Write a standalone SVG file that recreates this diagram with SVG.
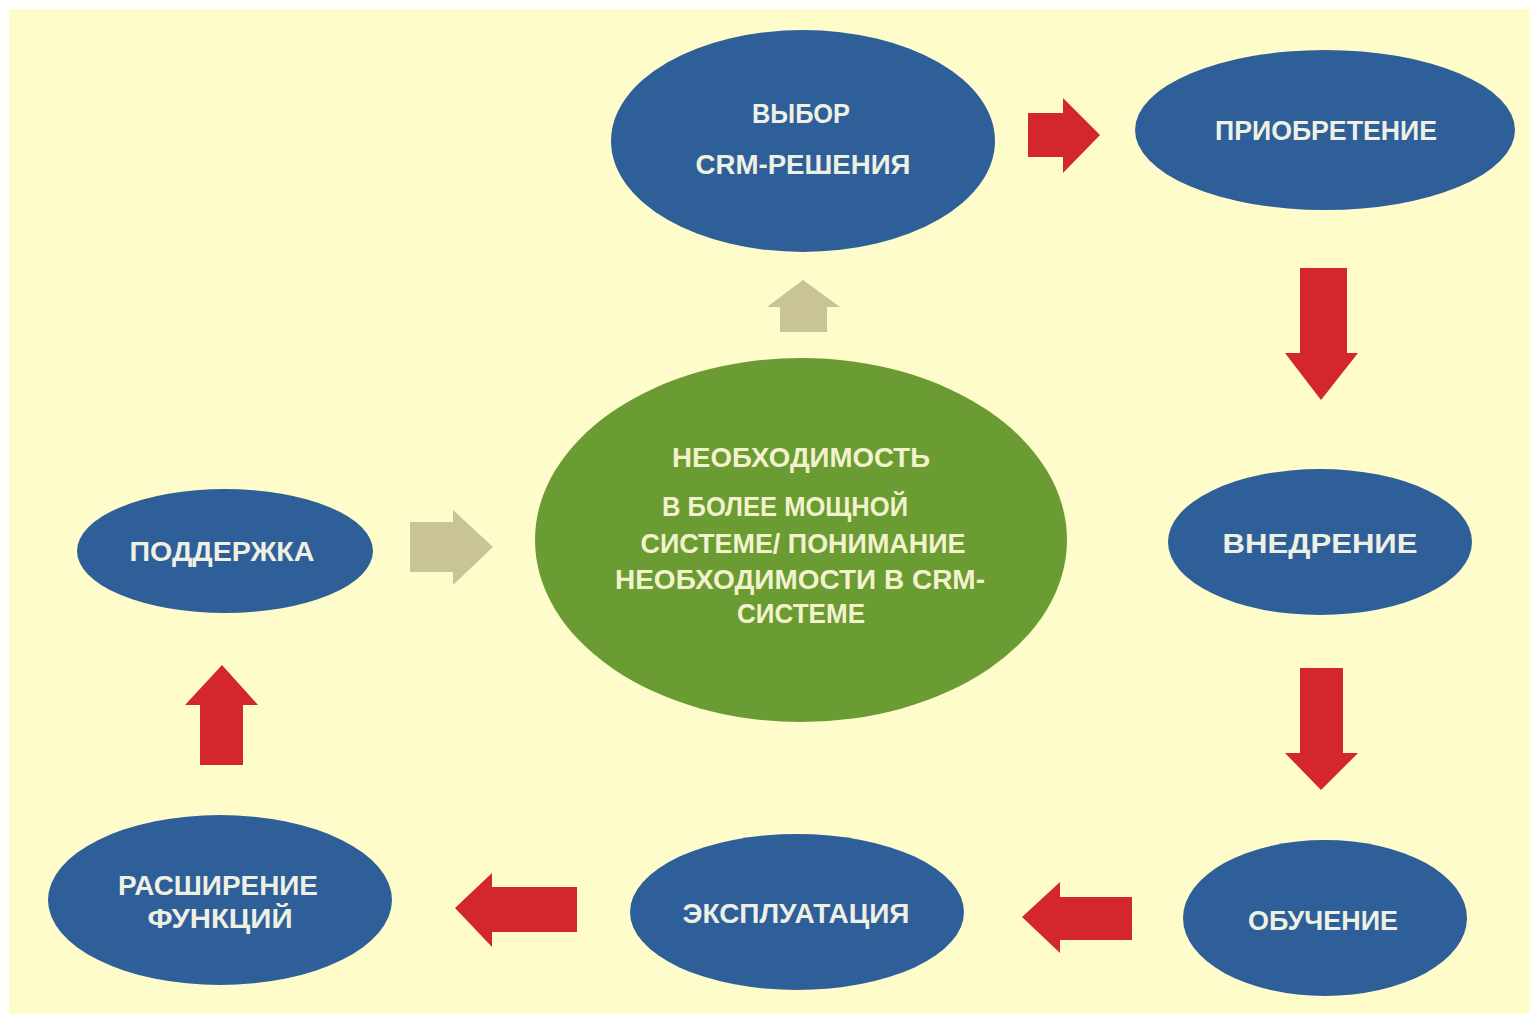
<svg xmlns="http://www.w3.org/2000/svg" width="1530" height="1015" viewBox="0 0 1530 1015">
<style>
.blue{fill:#2F5F98}
.green{fill:#6B9B33}
.red{fill:#D3262F}
.tan{fill:#C8C496}
.t{font-family:"Liberation Sans","Open Sans",sans-serif;font-weight:bold;font-size:27px;fill:#EEF0E4;text-anchor:middle}
.tg{fill:#F2F2CC}
</style>
<rect x="0" y="0" width="1530" height="1015" fill="#FFFFFF"/>
<rect x="9" y="9" width="1521" height="1005" fill="#FFFCCB"/>
<g id="connectors">
<polygon class="red" points="1028,113 1063,113 1063,98 1100,135 1063,173 1063,157 1028,157"/>
<polygon class="tan" points="780,332 780,307 767,307 803,280 840,307 827,307 827,332"/>
<polygon class="red" points="1300,268 1347,268 1347,353 1358,353 1321,400 1285,353 1300,353"/>
<polygon class="red" points="1300,668 1343,668 1343,753 1358,753 1321,790 1285,753 1300,753"/>
<polygon class="red" points="1132,897 1060,897 1060,882 1022,917 1060,953 1060,940 1132,940"/>
<polygon class="red" points="577,887 492,887 492,873 455,908 492,947 492,932 577,932"/>
<polygon class="red" points="200,765 200,705 185,705 222,665 258,705 243,705 243,765"/>
<polygon class="tan" points="410,522 453,522 453,510 493,547 453,585 453,572 410,572"/>
</g>
<g id="n-vybor">
<ellipse class="blue" cx="803" cy="141" rx="192" ry="111"/>
<text class="t" x="801" y="123" textLength="98" lengthAdjust="spacingAndGlyphs">ВЫБОР</text>
<text class="t" x="803" y="174" textLength="215" lengthAdjust="spacingAndGlyphs">CRM-РЕШЕНИЯ</text>
</g>
<g id="n-priobretenie">
<ellipse class="blue" cx="1325" cy="130" rx="190" ry="80"/>
<text class="t" x="1326" y="140" textLength="222" lengthAdjust="spacingAndGlyphs">ПРИОБРЕТЕНИЕ</text>
</g>
<g id="n-vnedrenie">
<ellipse class="blue" cx="1320" cy="542" rx="152" ry="73"/>
<text class="t" x="1320" y="553" textLength="195" lengthAdjust="spacingAndGlyphs">ВНЕДРЕНИЕ</text>
</g>
<g id="n-obuchenie">
<ellipse class="blue" cx="1325" cy="918" rx="142" ry="78"/>
<text class="t" x="1323" y="930" textLength="150" lengthAdjust="spacingAndGlyphs">ОБУЧЕНИЕ</text>
</g>
<g id="n-ekspluatatsiya">
<ellipse class="blue" cx="797" cy="912" rx="167" ry="78"/>
<text class="t" x="796" y="923" textLength="227" lengthAdjust="spacingAndGlyphs">ЭКСПЛУАТАЦИЯ</text>
</g>
<g id="n-rasshirenie">
<ellipse class="blue" cx="220" cy="900" rx="172" ry="85"/>
<text class="t" x="218" y="895" textLength="200" lengthAdjust="spacingAndGlyphs">РАСШИРЕНИЕ</text>
<text class="t" x="220" y="928" textLength="145" lengthAdjust="spacingAndGlyphs">ФУНКЦИЙ</text>
</g>
<g id="n-podderzhka">
<ellipse class="blue" cx="225" cy="551" rx="148" ry="62"/>
<text class="t" x="222" y="561" textLength="185" lengthAdjust="spacingAndGlyphs">ПОДДЕРЖКА</text>
</g>
<g id="n-neobkhodimost">
<ellipse class="green" cx="801" cy="540" rx="266" ry="182"/>
<text class="t tg" x="801" y="467" textLength="258" lengthAdjust="spacingAndGlyphs">НЕОБХОДИМОСТЬ</text>
<text class="t tg" x="785" y="516" textLength="246" lengthAdjust="spacingAndGlyphs">В БОЛЕЕ МОЩНОЙ</text>
<text class="t tg" x="803" y="553" textLength="325" lengthAdjust="spacingAndGlyphs">СИСТЕМЕ/ ПОНИМАНИЕ</text>
<text class="t tg" x="800" y="589" textLength="370" lengthAdjust="spacingAndGlyphs">НЕОБХОДИМОСТИ В CRM-</text>
<text class="t tg" x="801" y="623" textLength="128" lengthAdjust="spacingAndGlyphs">СИСТЕМЕ</text>
</g>
</svg>
